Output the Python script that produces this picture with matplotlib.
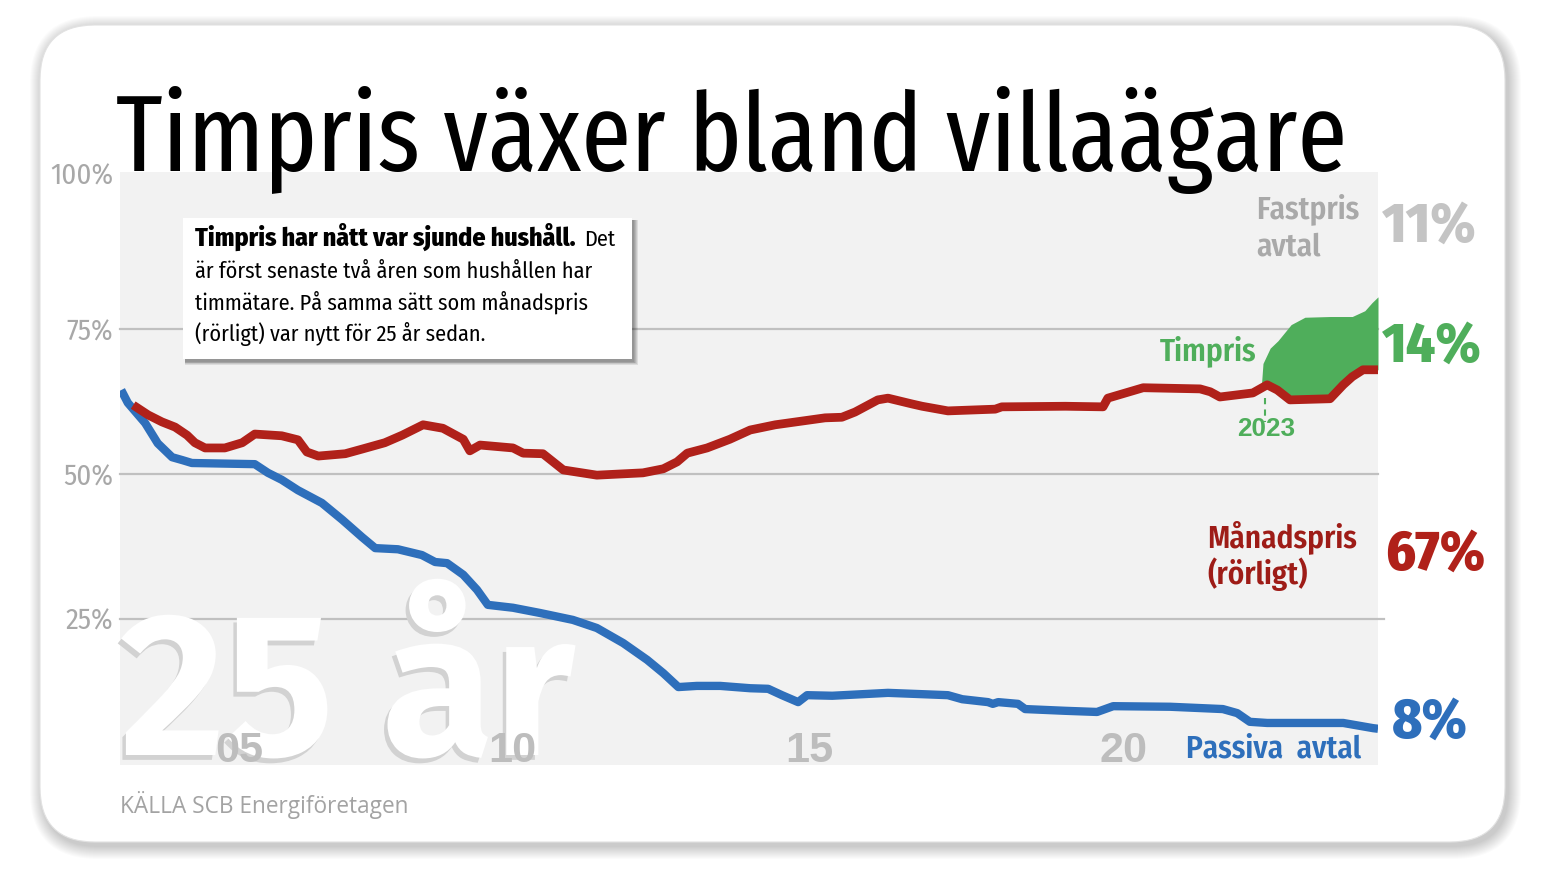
import os
import numpy as np
import matplotlib
matplotlib.use('Agg')
import matplotlib.pyplot as plt
from matplotlib import font_manager as fm
from matplotlib.font_manager import FontProperties
from matplotlib.patches import FancyBboxPatch, Rectangle
from matplotlib.transforms import blended_transform_factory
import matplotlib.patheffects as pe

# ---------------- data ----------------
PASSIVA_X = [2003.02, 2003.13, 2003.42, 2003.63, 2003.87, 2004.04, 2004.20, 2005.25, 2005.47, 2005.70,
             2005.97, 2006.37, 2006.71, 2007.04, 2007.26, 2007.64, 2008.04, 2008.26, 2008.46, 2008.73,
             2008.96, 2009.14, 2009.56, 2010.01, 2010.56, 2010.96, 2011.40, 2011.80, 2012.07, 2012.32,
             2012.63, 2013.02, 2013.52, 2013.82, 2014.05, 2014.32, 2014.47, 2014.89, 2015.82, 2016.82,
             2017.06, 2017.49, 2017.57, 2017.66, 2017.99, 2018.11, 2018.78, 2019.31, 2019.58, 2020.53,
             2021.41, 2021.65, 2021.86, 2022.15, 2023.42, 2023.92, 2024.0]
PASSIVA_Y = [64.5, 62.3, 58.8, 55.3, 52.9, 52.4, 51.9, 51.7, 50.2, 49.0,
             47.2, 45.0, 42.1, 39.1, 37.2, 37.0, 36.0, 34.8, 34.6, 32.6,
             30.0, 27.4, 26.9, 26.0, 24.8, 23.4, 20.8, 17.9, 15.6, 13.2,
             13.4, 13.4, 13.0, 12.9, 11.8, 10.6, 11.8, 11.7, 12.2, 11.8,
             11.1, 10.6, 10.3, 10.6, 10.3, 9.4, 9.1, 8.9, 9.9, 9.8,
             9.4, 8.7, 7.2, 7.0, 7.0, 6.1, 6.0]

MANAD_X = [2003.22, 2003.47, 2003.70, 2003.92, 2004.12, 2004.25, 2004.42, 2004.75, 2005.04, 2005.25,
           2005.70, 2005.97, 2006.12, 2006.31, 2006.76, 2007.04, 2007.42, 2007.71, 2008.06, 2008.39,
           2008.73, 2008.84, 2009.01, 2009.56, 2009.73, 2010.06, 2010.23, 2010.40, 2010.96, 2011.73,
           2012.07, 2012.30, 2012.47, 2012.80, 2013.18, 2013.52, 2013.94, 2014.77, 2015.05, 2015.27,
           2015.65, 2015.82, 2016.22, 2016.39, 2016.82, 2017.61, 2017.72, 2018.78, 2019.41, 2019.49,
           2020.08, 2021.03, 2021.20, 2021.36, 2021.91, 2022.15, 2022.32, 2022.53, 2023.20, 2023.42,
           2023.57, 2023.75, 2024.0]
MANAD_Y = [61.9, 60.2, 59.0, 58.1, 56.7, 55.4, 54.5, 54.5, 55.4, 56.9,
           56.6, 55.9, 53.8, 53.1, 53.5, 54.3, 55.4, 56.7, 58.5, 57.9,
           56.0, 54.0, 55.0, 54.5, 53.6, 53.5, 52.1, 50.7, 49.8, 50.2,
           50.9, 52.1, 53.6, 54.5, 56.0, 57.6, 58.5, 59.7, 59.8, 60.7,
           62.8, 63.1, 62.1, 61.7, 60.9, 61.2, 61.6, 61.7, 61.6, 63.1,
           64.9, 64.7, 64.2, 63.3, 64.0, 65.4, 64.5, 62.8, 63.0, 65.4,
           66.8, 68.0, 68.0]

TIMPRIS_X = [2022.05, 2022.08, 2022.20, 2022.33, 2022.55, 2022.78, 2023.20, 2023.57, 2023.78, 2023.90, 2024.0]
TIMPRIS_SHARE = [0.0, 4.1, 6.6, 8.6, 13.0, 14.2, 14.2, 10.4, 10.2, 11.6, 12.6]

END_FASTPRIS = 11
END_TIMPRIS = 14
END_MANAD = 67
END_PASSIVA = 8

YTICKS = [25, 50, 75, 100]
YTICK_LABELS = ['25%', '50%', '75%', '100%']
XTICKS = [2005.0, 2009.55, 2014.5, 2019.75]
XTICK_LABELS = ['05', '10', '15', '20']
MARK_LABEL = '2023'

TITLE = 'Timpris växer bland villaägare'
BOX_BOLD = 'Timpris har nått var sjunde hushåll.'
BOX_LINES = ['Det', 'är först senaste två åren som hushållen har',
             'timmätare. På samma sätt som månadspris', '(rörligt) var nytt för 25 år sedan.']
WATERMARK = '25 år'
SOURCE = 'KÄLLA SCB Energiföretagen'

# ---------------- colours ----------------
RED = '#b0211a'
RED_LABEL = '#9e1c17'
BLUE = '#2e6fbb'
GREEN = '#4fae5b'
GRID = '#c0c0c0'
PLOT_BG = '#f2f2f2'


# ---------------- fonts ----------------
def _cls(f):
    key = (os.path.basename(f.fname) + ' ' + f.name + ' ' + str(f.stretch)).lower()
    key = key.replace('-', '').replace('_', '').replace(' ', '')
    if 'ultracondensed' in key or 'extracondensed' in key:
        return 'xc'
    if 'semicondensed' in key:
        return 'sc'
    if 'condensed' in key or 'cond' in key:
        return 'c'
    if 'narrow' in key:
        return 'n'
    return None


FAM_PREF = ['firasans', 'opensans', 'notosans', 'roboto', 'lato', 'liberation', 'dejavu']


def _weight(f):
    return f.weight if isinstance(f.weight, (int, float)) else fm.weight_dict.get(f.weight, 400)


def pick_font(classes, weight, fallback='Liberation Sans'):
    best, bs = None, None
    for f in fm.fontManager.ttflist:
        c = _cls(f)
        if c is None or c not in classes:
            continue
        key = (os.path.basename(f.fname) + f.name).lower().replace(' ', '')
        if any(b in key for b in ('mono', 'serif', 'cjk', 'italic', 'oblique')):
            continue
        if f.style != 'normal':
            continue
        fr = next((i for i, p in enumerate(FAM_PREF) if p in key), len(FAM_PREF))
        s = classes.index(c) * 10000 + fr * 1000 + abs(_weight(f) - weight)
        if bs is None or s < bs:
            best, bs = f, s
    if best is None:
        return FontProperties(family=[fallback, 'DejaVu Sans'], weight=weight)
    return FontProperties(fname=best.fname)


fp_title = pick_font(['xc', 'c', 'n', 'sc'], 390)
fp_reg = pick_font(['c', 'sc', 'n', 'xc'], 390)
fp_boldbox = pick_font(['c', 'sc', 'n', 'xc'], 760)
fp_bold = pick_font(['c', 'sc', 'n', 'xc'], 610)
fp_heavy = pick_font(['c', 'sc', 'n', 'xc'], 760)
fp_arialb = FontProperties(family=['Liberation Sans', 'DejaVu Sans'], weight='bold')
fp_source = FontProperties(family=['Open Sans', 'DejaVu Sans'], weight='normal')
fp_wm = FontProperties(family=['Fira Sans', 'Lato', 'DejaVu Sans'], weight='bold')

W, H = 1544, 874
fig = plt.figure(figsize=(W / 100, H / 100), dpi=100)
fig.patch.set_facecolor('white')
renderer = fig.canvas.get_renderer()


def sized(fp, size):
    p = fp.copy()
    p.set_size(size)
    return p


def fit(s, fp, width=None, cap=None, capchar='H'):
    p = sized(fp, 100)
    sizes = []
    if width is not None:
        w, _, _ = renderer.get_text_width_height_descent(s, p, ismath=False)
        sizes.append(100 * width / w)
    if cap is not None:
        _, h, d = renderer.get_text_width_height_descent(capchar, p, ismath=False)
        sizes.append(100 * cap / (h - d))
    return sized(fp, min(sizes))


# ---------------- background card ----------------
bg = fig.add_axes([0, 0, 1, 1], zorder=0)
bg.set_xlim(0, W)
bg.set_ylim(H, 0)
bg.axis('off')
for s in range(1, 14):
    bg.add_patch(FancyBboxPatch((40 - s + 3, 25 - s + 4), 1465 + 2 * s, 817 + 2 * s,
                                boxstyle=f'round,pad=0,rounding_size={55 + s}',
                                fc='black', ec='none', alpha=0.016))
bg.add_patch(FancyBboxPatch((40, 25), 1465, 817, boxstyle='round,pad=0,rounding_size=55',
                            fc='white', ec='#e2e2e2', lw=0.8))

# ---------------- plot axes ----------------
L, R, T, B = 120, 1378, 172, 765
ax = fig.add_axes([L / W, 1 - B / H, (R - L) / W, (B - T) / H], zorder=5)
ax.set_facecolor(PLOT_BG)
for sp in ax.spines.values():
    sp.set_visible(False)
ax.set_xlim(2003.0, 2024.0)
ax.set_ylim(-0.26, 102.16)

for v in YTICKS[:-1]:
    ax.axhline(v, color=GRID, lw=1.6, zorder=1, xmax=1.005 if v == 25 else 1.0, clip_on=False)

# watermark "25 år"
fp_wm_s = fit(WATERMARK, fp_wm, width=455, cap=142, capchar='2')
ax.text(0.0, (B - 755) / (B - T), WATERMARK, transform=ax.transAxes, fontproperties=fp_wm_s,
        color='white', ha='left', va='baseline', zorder=1.5,
        path_effects=[pe.withSimplePatchShadow(offset=(-2.5, -3.5), shadow_rgbFace='#d2d2d2', alpha=1.0)])

# x tick labels inside plot
fp_x = fit('05', fp_arialb, width=48)
xtr = blended_transform_factory(ax.transData, ax.transAxes)
for xv, lab in zip(XTICKS, XTICK_LABELS):
    ax.text(xv, (B - 762) / (B - T), lab, transform=xtr, fontproperties=fp_x, color='#bdbdbd',
            ha='center', va='baseline', zorder=2.5)

# series
base = np.interp(TIMPRIS_X, MANAD_X, MANAD_Y)
top = base + np.array(TIMPRIS_SHARE)
ax.fill_between(TIMPRIS_X, base, top, color=GREEN, lw=0, zorder=3.1)
ax.plot(PASSIVA_X, PASSIVA_Y, color=BLUE, lw=6, solid_joinstyle='round', solid_capstyle='butt', zorder=3)
ax.plot(MANAD_X, MANAD_Y, color=RED, lw=6.3, solid_joinstyle='round', solid_capstyle='butt', zorder=3.2)

# y tick labels
fp_y = fit('100%', fp_reg, width=63)
ax.set_xticks([])
ax.set_yticks(YTICKS)
ax.set_yticklabels(YTICK_LABELS)
ax.tick_params(axis='y', length=0, pad=5, colors='#a8a8a8')
for lab in ax.get_yticklabels():
    lab.set_fontproperties(fp_y)
ax.get_yticklabels()[-1].set_va('baseline')

# ---------------- overlay (annotations) ----------------
ov = fig.add_axes([0, 0, 1, 1], zorder=10)
ov.set_xlim(0, W)
ov.set_ylim(H, 0)
ov.axis('off')

# title
fp_t = fit(TITLE, fp_title, width=1233, cap=95, capchar='T')
ov.text(116, 171, TITLE, fontproperties=fp_t, color='black', ha='left', va='baseline')

# info box
for s in range(1, 6):
    ov.add_patch(Rectangle((183 + 1.5, 218 + 2), 449 + s * 0.8, 141 + s * 0.8, fc='black', ec='none', alpha=0.09))
ov.add_patch(Rectangle((183, 218), 449, 141, fc='white', ec='none'))
fp_box = fit(BOX_LINES[1], fp_reg, width=397)
fp_boxb = fit(BOX_BOLD, fp_boldbox, width=381)
ov.text(195, 246, BOX_BOLD, fontproperties=fp_boxb, color='black', ha='left', va='baseline')
ov.text(584, 246, BOX_LINES[0], fontproperties=fp_box, color='black', ha='left', va='baseline')
for i, line in enumerate(BOX_LINES[1:]):
    ov.text(195, 278 + i * 31.7, line, fontproperties=fp_box, color='black', ha='left', va='baseline')

# series labels
fp_lab = fit('Månadspris', fp_bold, width=150, cap=22, capchar='M')
fp_pct = fit(f'{END_MANAD}%', fp_heavy, width=100, cap=42, capchar='6')
ov.text(1256, 218, 'Fastpris', fontproperties=fp_lab, color='#a9a9a9', ha='left', va='baseline')
ov.text(1256, 255, 'avtal', fontproperties=fp_lab, color='#a9a9a9', ha='left', va='baseline')
ov.text(1382, 242, f'{END_FASTPRIS}%', fontproperties=fp_pct, color='#c4c4c4', ha='left', va='baseline')
ov.text(1160, 360, 'Timpris', fontproperties=fp_lab, color=GREEN, ha='left', va='baseline')
ov.text(1382, 362, f'{END_TIMPRIS}%', fontproperties=fp_pct, color=GREEN, ha='left', va='baseline')
ov.text(1207, 547, 'Månadspris', fontproperties=fp_lab, color=RED_LABEL, ha='left', va='baseline')
ov.text(1207, 584, '(rörligt)', fontproperties=fp_lab, color=RED_LABEL, ha='left', va='baseline')
ov.text(1385, 570, f'{END_MANAD}%', fontproperties=fp_pct, color=RED, ha='left', va='baseline')
ov.text(1186, 758, 'Passiva  avtal', fontproperties=fp_lab, color=BLUE, ha='left', va='baseline')
ov.text(1392, 738, f'{END_PASSIVA}%', fontproperties=fp_pct, color=BLUE, ha='left', va='baseline')

# 2023 marker
ov.plot([1265, 1265], [398, 422], color=GREEN, lw=1.5, ls=(0, (3, 2.5)))
fp_mark = fit(MARK_LABEL, fp_arialb, width=58)
ov.text(1266, 436, MARK_LABEL, fontproperties=fp_mark, color=GREEN, ha='center', va='baseline')

# source
fp_src = fit(SOURCE, fp_source, width=289)
ov.text(120, 813, SOURCE, fontproperties=fp_src, color='#a3a3a3', ha='left', va='baseline')

fig.savefig('out.png', dpi=100, facecolor='white')
